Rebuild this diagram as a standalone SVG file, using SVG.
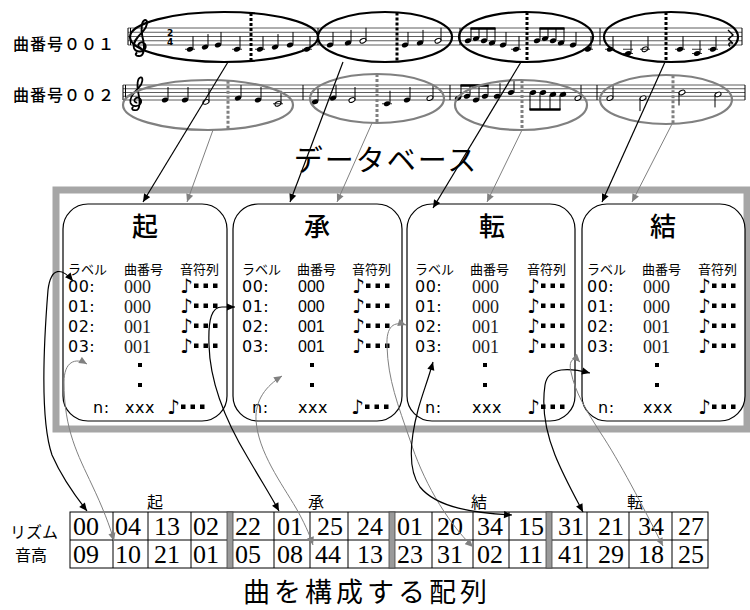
<svg xmlns="http://www.w3.org/2000/svg" xmlns:xlink="http://www.w3.org/1999/xlink" width="750" height="610" viewBox="0 0 750 610">
<style>
.jp{font-family:'Noto Sans CJK JP',sans-serif;fill:#000}
.hd{font-size:13px}
.ttl{font-size:26px;text-anchor:middle;font-weight:500}
.lb{font-family:'DejaVu Sans',sans-serif;font-size:16px;letter-spacing:0.5px}
.sv{font-family:'Liberation Serif',serif;font-size:18px;fill:#222}
.ss{font-family:'Liberation Sans',sans-serif;font-size:16px}
.nt{font-family:'DejaVu Sans',sans-serif;font-size:20px}
.tn{font-family:'Liberation Serif',serif;font-size:26px}
.staff line{stroke:#333;stroke-width:0.8}
.bar{stroke:#000;stroke-width:1}
.box{fill:#fff;stroke:#000;stroke-width:1.2}
.eb{fill:none;stroke:#000;stroke-width:2.2}
.eg{fill:none;stroke:#808080;stroke-width:2.2}
.db{stroke:#000;stroke-width:3;stroke-dasharray:3 2}
.dg{stroke:#808080;stroke-width:3;stroke-dasharray:3 2}
.ck{fill:none;stroke:#000;stroke-width:1.2}
.cg{fill:none;stroke:#808080;stroke-width:1}
.st{stroke:#000;stroke-width:1}
.led{stroke:#000;stroke-width:0.8}
.cell{stroke:#000;stroke-width:1;fill:none}
</style>
<defs>
<marker id="ak" viewBox="0 0 10 10" refX="10" refY="5" markerWidth="9" markerHeight="8" markerUnits="userSpaceOnUse" orient="auto-start-reverse"><path d="M0,0.5 L10,5 L0,9.5 z" fill="#000"/></marker>
<marker id="ag" viewBox="0 0 10 10" refX="10" refY="5" markerWidth="9" markerHeight="8" markerUnits="userSpaceOnUse" orient="auto-start-reverse"><path d="M0,0.5 L10,5 L0,9.5 z" fill="#808080"/></marker>
<ellipse id="hd" cx="0" cy="0" rx="3.3" ry="2.3" transform="rotate(-22)" fill="#000"/>
<ellipse id="ho" cx="0" cy="0" rx="3.2" ry="2.1" transform="rotate(-22)" fill="#fff" stroke="#000" stroke-width="1"/>
<g id="q"><use xlink:href="#hd"/><line x1="3" y1="-0.5" x2="3" y2="-13" stroke="#000" stroke-width="1"/></g>
<g id="h"><use xlink:href="#ho"/><line x1="3" y1="-0.5" x2="3" y2="-13" stroke="#000" stroke-width="1"/></g>
<g id="hdn"><use xlink:href="#ho"/><line x1="-3" y1="0.5" x2="-3" y2="13" stroke="#000" stroke-width="1"/></g>
<path id="clef" d="M-0.2,3.3 C1.0,3.5 1.1,1.2 0.5,-1 C0.2,-2.6 0.3,-4.3 1.1,-4.5 C1.8,-4.6 1.6,-3.0 0.7,-2.1 C-0.7,-0.7 -1.7,0.5 -1.3,1.6 C-0.9,2.6 0.8,2.6 1.2,1.5 C1.4,0.6 0.4,0.0 -0.2,0.6 C-0.6,1 -0.3,1.6 0.3,1.5 M-0.2,3.3 C-0.9,3.4 -1.2,2.8 -0.6,2.6" fill="none" stroke="#000" stroke-width="0.42"/>
<g id="nd"><text class="nt" x="-1" y="1">♪</text><rect x="13" y="-8.5" width="4.5" height="4.5"/><rect x="22.5" y="-8.5" width="4.5" height="4.5"/><rect x="32" y="-8.5" width="4.5" height="4.5"/></g>
</defs>

<g id="score1">
  <text class="jp" x="13" y="50" font-size="16" letter-spacing="1" font-weight="500">曲番号００１</text>
  <g class="staff">
    <line x1="128" y1="28" x2="742" y2="28"/><line x1="128" y1="32.25" x2="742" y2="32.25"/><line x1="128" y1="36.5" x2="742" y2="36.5"/><line x1="128" y1="40.75" x2="742" y2="40.75"/><line x1="128" y1="45" x2="742" y2="45"/>
  </g>
  <g class="bar">
    <line x1="128" y1="28" x2="128" y2="45"/><line x1="130.5" y1="28" x2="130.5" y2="45"/><line x1="318" y1="28" x2="318" y2="45"/><line x1="460" y1="28" x2="460" y2="45"/><line x1="600" y1="28" x2="600" y2="45"/><line x1="742" y1="28" x2="742" y2="45"/>
  </g>
  <use xlink:href="#clef" transform="translate(140,40.75) scale(4.6)"/>
  <text x="167" y="36.3" font-family="'DejaVu Sans',sans-serif" font-size="9" font-weight="bold">2</text>
  <text x="167" y="44.8" font-family="'DejaVu Sans',sans-serif" font-size="9" font-weight="bold">4</text>
  <g>
    <use xlink:href="#q" x="190" y="49.25"/><use xlink:href="#q" x="205" y="47.1"/><use xlink:href="#q" x="218" y="45"/><use xlink:href="#q" x="237" y="49.25"/>
    <use xlink:href="#q" x="260" y="49.25"/><use xlink:href="#q" x="275" y="47.1"/><use xlink:href="#q" x="290" y="45"/><use xlink:href="#q" x="307" y="49.25"/>
    <use xlink:href="#q" x="330" y="45"/><use xlink:href="#q" x="348" y="42.9"/><use xlink:href="#h" x="363" y="40.75"/>
    <use xlink:href="#q" x="405" y="45"/><use xlink:href="#q" x="420" y="42.9"/><use xlink:href="#h" x="438" y="40.75"/>
    <use xlink:href="#hd" x="468" y="40.75"/><use xlink:href="#hd" x="476" y="38.6"/><use xlink:href="#hd" x="484" y="40.75"/><use xlink:href="#hd" x="492" y="42.9"/>
    <line class="st" x1="471" y1="40" x2="471" y2="28"/><line class="st" x1="479" y1="38" x2="479" y2="28"/><line class="st" x1="487" y1="40" x2="487" y2="28"/><line class="st" x1="495" y1="42" x2="495" y2="28"/>
    <line x1="470.5" y1="28.5" x2="495.5" y2="28.5" stroke="#000" stroke-width="2.5"/>
    <use xlink:href="#q" x="503" y="45"/><use xlink:href="#q" x="516" y="49.25"/>
    <use xlink:href="#hd" x="537" y="40.75"/><use xlink:href="#hd" x="545" y="38.6"/><use xlink:href="#hd" x="553" y="40.75"/><use xlink:href="#hd" x="561" y="42.9"/>
    <line class="st" x1="540" y1="40" x2="540" y2="28"/><line class="st" x1="548" y1="38" x2="548" y2="28"/><line class="st" x1="556" y1="40" x2="556" y2="28"/><line class="st" x1="564" y1="42" x2="564" y2="28"/>
    <line x1="539.5" y1="28.5" x2="564.5" y2="28.5" stroke="#000" stroke-width="2.5"/>
    <use xlink:href="#q" x="573" y="45"/><use xlink:href="#q" x="588" y="49.25"/>
    <use xlink:href="#q" x="610" y="49.25"/><use xlink:href="#q" x="628" y="53.5"/><use xlink:href="#h" x="645" y="49.25"/>
    <use xlink:href="#q" x="680" y="49.25"/><use xlink:href="#q" x="697" y="53.5"/><use xlink:href="#q" x="713" y="49.25"/>
    <path d="M728,30 L733,35 L728.5,39 L733,43.5 C729.5,41.5 727.5,44 730,46.5" fill="none" stroke="#000" stroke-width="1.4"/>
  </g>
  <g>
    <line class="led" x1="185" y1="49.25" x2="195" y2="49.25"/><line class="led" x1="232" y1="49.25" x2="242" y2="49.25"/>
    <line class="led" x1="255" y1="49.25" x2="265" y2="49.25"/><line class="led" x1="302" y1="49.25" x2="312" y2="49.25"/>
    <line class="led" x1="511" y1="49.25" x2="521" y2="49.25"/><line class="led" x1="583" y1="49.25" x2="593" y2="49.25"/>
    <line class="led" x1="605" y1="49.25" x2="615" y2="49.25"/><line class="led" x1="623" y1="49.25" x2="633" y2="49.25"/><line class="led" x1="623" y1="53.5" x2="633" y2="53.5"/><line class="led" x1="640" y1="49.25" x2="650" y2="49.25"/>
    <line class="led" x1="675" y1="49.25" x2="685" y2="49.25"/><line class="led" x1="692" y1="49.25" x2="702" y2="49.25"/><line class="led" x1="692" y1="53.5" x2="702" y2="53.5"/><line class="led" x1="708" y1="49.25" x2="718" y2="49.25"/>
  </g>
  <ellipse class="eb" cx="224" cy="37" rx="94" ry="25"/>
  <ellipse class="eb" cx="385" cy="37" rx="67" ry="25"/>
  <ellipse class="eb" cx="526" cy="37" rx="67" ry="25"/>
  <ellipse class="eb" cx="671" cy="37" rx="67" ry="25"/>
  <line class="db" x1="251" y1="13" x2="251" y2="61"/>
  <line class="db" x1="397" y1="12.5" x2="397" y2="61.5"/>
  <line class="db" x1="527" y1="12" x2="527" y2="62"/>
  <line class="db" x1="666" y1="12" x2="666" y2="62"/>
</g>

<g id="score2">
  <text class="jp" x="13" y="101" font-size="16" letter-spacing="1" font-weight="500">曲番号００２</text>
  <g class="staff">
    <line x1="123" y1="85" x2="745" y2="85"/><line x1="123" y1="88.75" x2="745" y2="88.75"/><line x1="123" y1="92.5" x2="745" y2="92.5"/><line x1="123" y1="96.25" x2="745" y2="96.25"/><line x1="123" y1="100" x2="745" y2="100"/>
  </g>
  <g class="bar">
    <line x1="123" y1="85" x2="123" y2="100"/><line x1="125.5" y1="85" x2="125.5" y2="100"/><line x1="303" y1="85" x2="303" y2="100"/><line x1="450" y1="85" x2="450" y2="100"/><line x1="597" y1="85" x2="597" y2="100"/><line x1="745" y1="85" x2="745" y2="100"/>
  </g>
  <use xlink:href="#clef" transform="translate(136,96.25) scale(4.2)"/>
  <g>
    <use xlink:href="#q" x="165" y="100"/><use xlink:href="#q" x="185" y="100"/><use xlink:href="#h" x="206" y="101.9"/>
    <use xlink:href="#q" x="238" y="98.1"/><use xlink:href="#q" x="258" y="100"/><use xlink:href="#h" x="278" y="103.75"/>
    <use xlink:href="#q" x="315" y="101.9"/><use xlink:href="#q" x="333" y="98.1"/><use xlink:href="#h" x="352" y="100"/>
    <use xlink:href="#q" x="387" y="103.75"/><use xlink:href="#q" x="407" y="100"/><use xlink:href="#h" x="430" y="98.1"/>
    <use xlink:href="#hd" x="458" y="98.1"/><use xlink:href="#hd" x="467" y="96.25"/><use xlink:href="#hd" x="476" y="100"/><use xlink:href="#hd" x="485" y="96.25"/>
    <line class="st" x1="461" y1="97.5" x2="461" y2="85"/><line class="st" x1="470" y1="95.5" x2="470" y2="85"/><line class="st" x1="479" y1="99.5" x2="479" y2="85"/><line class="st" x1="488" y1="95.5" x2="488" y2="85"/>
    <line x1="460.5" y1="85.5" x2="488.5" y2="85.5" stroke="#000" stroke-width="2.5"/>
    <use xlink:href="#q" x="497" y="96.25"/><use xlink:href="#q" x="511" y="92.5"/>
    <use xlink:href="#hd" x="533" y="92.5"/><use xlink:href="#hd" x="543" y="92.5"/><use xlink:href="#hd" x="553" y="94.4"/><use xlink:href="#hd" x="563" y="94.4"/>
    <line class="st" x1="530" y1="93" x2="530" y2="110"/><line class="st" x1="540" y1="93" x2="540" y2="110"/><line class="st" x1="550" y1="95" x2="550" y2="110"/><line class="st" x1="560" y1="95" x2="560" y2="110"/>
    <line x1="529.5" y1="109.5" x2="560.5" y2="109.5" stroke="#000" stroke-width="2.5"/>
    <use xlink:href="#h" x="578" y="98.1"/>
    <use xlink:href="#h" x="610" y="98.1"/><use xlink:href="#hdn" x="643" y="98.1"/>
    <use xlink:href="#hdn" x="682" y="92.5"/><use xlink:href="#hdn" x="718" y="94.4"/>
    <line class="led" x1="273" y1="103.75" x2="283" y2="103.75"/><line class="led" x1="382" y1="103.75" x2="392" y2="103.75"/>
  </g>
  <ellipse class="eg" cx="208" cy="105" rx="85" ry="25"/>
  <ellipse class="eg" cx="377" cy="98.5" rx="67" ry="24.5"/>
  <ellipse class="eg" cx="521" cy="105" rx="66" ry="25"/>
  <ellipse class="eg" cx="666" cy="99.5" rx="66" ry="24.5"/>
  <line class="dg" x1="228" y1="80.7" x2="228" y2="129.3"/>
  <line class="dg" x1="377" y1="74" x2="377" y2="123"/>
  <line class="dg" x1="522" y1="80" x2="522" y2="130"/>
  <line class="dg" x1="673" y1="75.2" x2="673" y2="123.8"/>
</g>

<text class="jp" x="386" y="171" font-size="29" letter-spacing="2" text-anchor="middle">データベース</text>

<g id="database">
  <rect x="56" y="190" width="691" height="239" fill="none" stroke="#a6a6a6" stroke-width="7"/>
</g>

<g id="box-ki">
  <rect class="box" x="63" y="204" width="164" height="217" rx="25"/>
  <text class="jp ttl" x="145" y="236">起</text>
  <text class="jp hd" x="68" y="274">ラベル</text><text class="jp hd" x="124" y="274">曲番号</text><text class="jp hd" x="180" y="274">音符列</text>
  <text class="lb" x="68" y="292">00:</text><text class="sv" x="124" y="293">000</text><use xlink:href="#nd" x="181" y="292"/>
  <text class="lb" x="68" y="312">01:</text><text class="sv" x="124" y="313">000</text><use xlink:href="#nd" x="181" y="312"/>
  <text class="lb" x="68" y="332">02:</text><text class="sv" x="124" y="333">001</text><use xlink:href="#nd" x="181" y="332"/>
  <text class="lb" x="68" y="352">03:</text><text class="sv" x="124" y="353">001</text><use xlink:href="#nd" x="181" y="352"/>
  <rect x="138" y="363" width="4" height="4"/><rect x="138" y="383" width="4" height="4"/>
  <text class="lb" x="93" y="413">n:</text><text class="lb" x="125" y="413">xxx</text><use xlink:href="#nd" x="168" y="413"/>
</g>

<g id="box-sho">
  <rect class="box" x="233" y="204" width="169" height="217" rx="25"/>
  <text class="jp ttl" x="317" y="236">承</text>
  <text class="jp hd" x="242" y="274">ラベル</text><text class="jp hd" x="297" y="274">曲番号</text><text class="jp hd" x="352" y="274">音符列</text>
  <text class="lb" x="242" y="292">00:</text><text class="ss" x="298" y="292">000</text><use xlink:href="#nd" x="353" y="292"/>
  <text class="lb" x="242" y="312">01:</text><text class="ss" x="298" y="312">000</text><use xlink:href="#nd" x="353" y="312"/>
  <text class="lb" x="242" y="332">02:</text><text class="ss" x="298" y="332">001</text><use xlink:href="#nd" x="353" y="332"/>
  <text class="lb" x="242" y="352">03:</text><text class="ss" x="298" y="352">001</text><use xlink:href="#nd" x="353" y="352"/>
  <rect x="310" y="363" width="4" height="4"/><rect x="310" y="383" width="4" height="4"/>
  <text class="lb" x="252" y="413">n:</text><text class="lb" x="298" y="413">xxx</text><use xlink:href="#nd" x="352" y="413"/>
</g>

<g id="box-ten">
  <rect class="box" x="407" y="204" width="168" height="217" rx="25"/>
  <text class="jp ttl" x="492" y="236">転</text>
  <text class="jp hd" x="415" y="274">ラベル</text><text class="jp hd" x="470" y="274">曲番号</text><text class="jp hd" x="527" y="274">音符列</text>
  <text class="lb" x="415" y="292">00:</text><text class="sv" x="472" y="293">000</text><use xlink:href="#nd" x="528" y="292"/>
  <text class="lb" x="415" y="312">01:</text><text class="sv" x="472" y="313">000</text><use xlink:href="#nd" x="528" y="312"/>
  <text class="lb" x="415" y="332">02:</text><text class="sv" x="472" y="333">001</text><use xlink:href="#nd" x="528" y="332"/>
  <text class="lb" x="415" y="352">03:</text><text class="sv" x="472" y="353">001</text><use xlink:href="#nd" x="528" y="352"/>
  <rect x="483" y="363" width="4" height="4"/><rect x="483" y="383" width="4" height="4"/>
  <text class="lb" x="425" y="413">n:</text><text class="lb" x="472" y="413">xxx</text><use xlink:href="#nd" x="528" y="413"/>
</g>

<g id="box-ketsu">
  <rect class="box" x="582" y="204" width="163" height="217" rx="25"/>
  <text class="jp ttl" x="663" y="236">結</text>
  <text class="jp hd" x="587" y="274">ラベル</text><text class="jp hd" x="642" y="274">曲番号</text><text class="jp hd" x="698" y="274">音符列</text>
  <text class="lb" x="587" y="292">00:</text><text class="sv" x="643" y="293">000</text><use xlink:href="#nd" x="699" y="292"/>
  <text class="lb" x="587" y="312">01:</text><text class="sv" x="643" y="313">000</text><use xlink:href="#nd" x="699" y="312"/>
  <text class="lb" x="587" y="332">02:</text><text class="sv" x="643" y="333">001</text><use xlink:href="#nd" x="699" y="332"/>
  <text class="lb" x="587" y="352">03:</text><text class="sv" x="643" y="353">001</text><use xlink:href="#nd" x="699" y="352"/>
  <rect x="655" y="363" width="4" height="4"/><rect x="655" y="383" width="4" height="4"/>
  <text class="lb" x="598" y="413">n:</text><text class="lb" x="643" y="413">xxx</text><use xlink:href="#nd" x="699" y="413"/>
</g>

<g id="table">
  <text class="jp" x="155" y="508" font-size="16" text-anchor="middle">起</text>
  <text class="jp" x="316" y="508" font-size="16" text-anchor="middle">承</text>
  <text class="jp" x="479" y="508" font-size="16" text-anchor="middle">結</text>
  <text class="jp" x="635" y="508" font-size="16" text-anchor="middle">転</text>
  <text class="jp" x="10" y="538" font-size="16">リズム</text>
  <text class="jp" x="15" y="561" font-size="16">音高</text>
  <rect class="cell" x="70" y="512" width="638" height="56"/>
  <line class="cell" x1="70" y1="540" x2="708" y2="540"/>
  <g class="cell">
    <line x1="113" y1="512" x2="113" y2="568"/><line x1="148" y1="512" x2="148" y2="568"/><line x1="191" y1="512" x2="191" y2="568"/>
    <line x1="274" y1="512" x2="274" y2="568"/><line x1="310" y1="512" x2="310" y2="568"/><line x1="348" y1="512" x2="348" y2="568"/>
    <line x1="432" y1="512" x2="432" y2="568"/><line x1="473" y1="512" x2="473" y2="568"/><line x1="509" y1="512" x2="509" y2="568"/>
    <line x1="587" y1="512" x2="587" y2="568"/><line x1="629" y1="512" x2="629" y2="568"/><line x1="672" y1="512" x2="672" y2="568"/>
  </g>
  <rect x="227" y="512" width="6" height="56" fill="#9a9a9a" stroke="#444" stroke-width="0.8"/>
  <rect x="389" y="512" width="6" height="56" fill="#9a9a9a" stroke="#444" stroke-width="0.8"/>
  <rect x="546" y="512" width="6" height="56" fill="#9a9a9a" stroke="#444" stroke-width="0.8"/>
  <g class="tn">
    <text x="73" y="535">00</text><text x="115" y="535">04</text><text x="154" y="535">13</text><text x="193" y="535">02</text>
    <text x="235" y="535">22</text><text x="277" y="535">01</text><text x="317" y="535">25</text><text x="357" y="535">24</text>
    <text x="397" y="535">01</text><text x="437" y="535">20</text><text x="477" y="535">34</text><text x="518" y="535">15</text>
    <text x="558" y="535">31</text><text x="598" y="535">21</text><text x="638" y="535">34</text><text x="678" y="535">27</text>
    <text x="73" y="563">09</text><text x="115" y="563">10</text><text x="154" y="563">21</text><text x="193" y="563">01</text>
    <text x="235" y="563">05</text><text x="277" y="563">08</text><text x="315" y="563">44</text><text x="357" y="563">13</text>
    <text x="397" y="563">23</text><text x="437" y="563">31</text><text x="477" y="563">02</text><text x="518" y="563">11</text>
    <text x="558" y="563">41</text><text x="598" y="563">29</text><text x="638" y="563">18</text><text x="678" y="563">25</text>
  </g>
</g>

<text class="jp" x="367" y="602" font-size="27" letter-spacing="4" text-anchor="middle">曲を構成する配列</text>

<g id="connectors">
  <path class="ck" d="M228,62 L143,202" marker-end="url(#ak)"/>
  <path class="cg" d="M213,130 L187,202" marker-end="url(#ag)"/>
  <path class="ck" d="M343,62 L290,202" marker-end="url(#ak)"/>
  <path class="cg" d="M372,123 L337,202" marker-end="url(#ag)"/>
  <path class="ck" d="M521,62 L433,208" marker-end="url(#ak)"/>
  <path class="cg" d="M522,130 L487,202" marker-end="url(#ag)"/>
  <path class="ck" d="M665,62 L602,202" marker-end="url(#ak)"/>
  <path class="cg" d="M672,124 L632,202" marker-end="url(#ag)"/>

  <path class="ck" d="M73,281 C62,268 51,266 48,290 C44,340 40,420 52,455 C62,478 76,497 87,511" marker-start="url(#ak)" marker-end="url(#ak)"/>
  <path class="cg" d="M87,364 C75,357 64,362 64,382 C64,430 78,455 92,485 C102,506 110,526 114,541" marker-start="url(#ag)" marker-end="url(#ag)"/>
  <path class="ck" d="M235,307 L222,307 C212,307 208,318 209,345 C210,385 228,425 248,458 C262,482 272,498 279,511" marker-start="url(#ak)" marker-end="url(#ak)"/>
  <path class="cg" d="M282,376 C266,386 255,400 256,420 C258,452 282,484 296,508 C304,522 309,533 313,545" marker-start="url(#ag)" marker-end="url(#ag)"/>
  <path class="cg" d="M406,325 C394,321 386,326 387,346 C388,380 398,405 410,440 C422,478 445,520 473,547" marker-start="url(#ag)" marker-end="url(#ag)"/>
  <path class="ck" d="M433,362 C428,380 422,395 418,410 C410,440 408,470 420,487 C437,508 475,513 512,515" marker-start="url(#ak)" marker-end="url(#ak)"/>
  <path class="ck" d="M590,373 C570,368 548,366 545,385 C542,405 545,430 555,455 C563,475 574,495 583,512" marker-start="url(#ak)" marker-end="url(#ak)"/>
  <path class="cg" d="M580,362 C574,356 568,360 571,372 C575,392 586,410 600,432 C620,462 642,505 663,546" marker-start="url(#ag)" marker-end="url(#ag)"/>
</g>
</svg>
